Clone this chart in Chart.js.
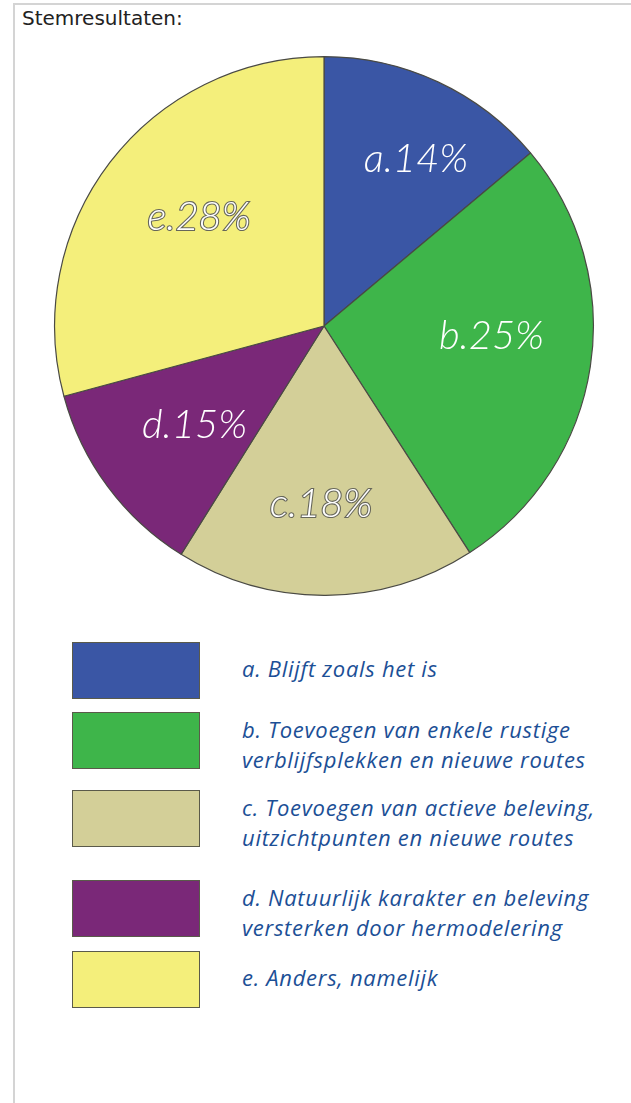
<!DOCTYPE html>
<html>
<head>
<meta charset="utf-8">
<script src="https://cdn.jsdelivr.net/npm/chart.js@4"></script>
<style>
  html, body { margin: 0; padding: 0; background: #fff; }
  body { width: 631px; height: 1103px; position: relative; overflow: hidden; }
  #frame {
    position: absolute; left: 13px; top: 3px; width: 640px; height: 1120px;
    border-left: 2px solid #d4d4d4; border-top: 2px solid #d4d4d4;
  }
  #title {
    position: absolute; left: 22px; top: 6px;
    font: 20px "DejaVu Sans", Verdana, sans-serif; color: #222;
  }
  #chart { position: absolute; left: 52px; top: 54px; }
  .item { position: absolute; left: 72px; }
  .box { position: absolute; left: 0; width: 126px; height: 55px; border: 1px solid #5a5a4a; }
  .txt {
    position: absolute; left: 170px; width: 440px; white-space: nowrap;
    font: italic 22px "Open Sans", Lato, sans-serif; color: #1c4f96; line-height: 30px;
    letter-spacing: 0.7px;
  }
</style>
</head>
<body>
<div id="frame"></div>
<div id="title">Stemresultaten:</div>
<canvas id="chart" width="544" height="544"></canvas>
<div id="legend"></div>
<script>
const $ = id => document.getElementById(id);

// slice shares as drawn (in %)
const shares = [13.9, 27.0, 18.0, 11.9, 29.2];
const sliceLabels = ["a.14%", "b.25%", "c.18%", "d.15%", "e.28%"];
const outlined = [false, false, true, false, true];
const colors = ["#3a56a5", "#3eb54a", "#d3cf98", "#7a2878", "#f4ef7b"];
const legendText = [
  ["a. Blijft zoals het is"],
  ["b. Toevoegen van enkele rustige", "verblijfsplekken en nieuwe routes"],
  ["c. Toevoegen van actieve beleving,", "uitzichtpunten en nieuwe routes"],
  ["d. Natuurlijk karakter en beleving", "versterken door hermodelering"],
  ["e. Anders, namelijk"]
];
const legendTop = [642, 712, 790, 880, 951];
// small nudges of the slice labels away from the plain centroid
const nudge = [[19, -11], [-3, -16], [-4, 6], [9, -4], [12, -4]];

const sliceText = {
  id: "sliceText",
  afterDatasetsDraw(c) {
    const ctx = c.ctx;
    const meta = c.getDatasetMeta(0);
    ctx.save();
    ctx.font = "italic 300 40px Lato, 'Open Sans', sans-serif";
    ctx.textAlign = "center";
    ctx.textBaseline = "middle";
    meta.data.forEach((arc, i) => {
      const p = arc.getProps(["x", "y", "startAngle", "endAngle", "outerRadius"], true);
      const mid = (p.startAngle + p.endAngle) / 2;
      const r = p.outerRadius * 0.64;
      const x = p.x + Math.cos(mid) * r + nudge[i][0];
      const y = p.y + Math.sin(mid) * r + nudge[i][1];
      if (outlined[i]) {
        ctx.lineWidth = 2.2;
        ctx.strokeStyle = "#66665a";
        ctx.strokeText(sliceLabels[i], x, y);
      }
      ctx.fillStyle = "#fff";
      ctx.fillText(sliceLabels[i], x, y);
    });
    ctx.restore();
  }
};

new Chart($("chart"), {
  type: "pie",
  data: {
    labels: legendText.map(t => t.join(" ")),
    datasets: [{
      data: shares,
      backgroundColor: colors,
      borderColor: "#4a4a44",
      borderWidth: 1.2
    }]
  },
  options: {
    responsive: false,
    animation: false,
    layout: { padding: 2 },
    plugins: { legend: { display: false }, tooltip: { enabled: false } }
  },
  plugins: [sliceText]
});

$("legend").innerHTML = legendText.map((lines, i) => `
  <div class="item" style="top:${legendTop[i]}px">
    <div class="box" style="background:${colors[i]}"></div>
    <div class="txt" style="top:${lines.length > 1 ? 2 : 11}px">${lines.join("<br>")}</div>
  </div>`).join("");
</script>
</body>
</html>
